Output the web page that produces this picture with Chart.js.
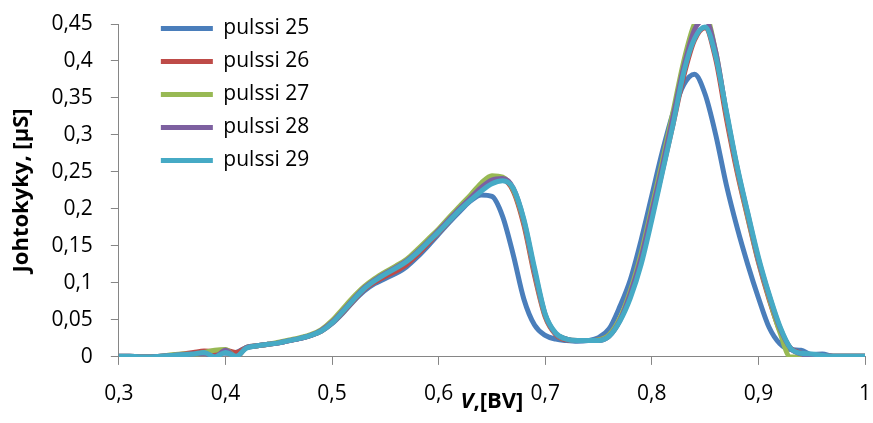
<!DOCTYPE html>
<html>
<head>
<meta charset="utf-8">
<script src="https://cdn.jsdelivr.net/npm/chart.js@4/dist/chart.umd.min.js"></script>
<style>
  html, body { margin: 0; padding: 0; background: #ffffff; }
  #kuva { position: relative; width: 873px; height: 423px; }
</style>
</head>
<body>
<div id="kuva"><canvas id="johtokyky"></canvas></div>
<script>
// Datos
const jannite = [0.30,0.31,0.32,0.33,0.34,0.35,0.36,0.37,0.38,0.39,
  0.40,0.41,0.42,0.43,0.44,0.45,0.46,0.47,0.48,0.49,
  0.50,0.51,0.52,0.53,0.54,0.55,0.56,0.57,0.58,0.59,
  0.60,0.61,0.62,0.63,0.64,0.65,0.66,0.67,0.68,0.69,
  0.70,0.71,0.72,0.73,0.74,0.75,0.76,0.77,0.78,0.79,
  0.80,0.81,0.82,0.83,0.84,0.85,0.86,0.87,0.88,0.89,
  0.90,0.91,0.92,0.93,0.94,0.95,0.96,0.97,0.98,0.99,1.00];

const pulssi25 = [0.001,0.001,0.000,0.000,0.001,0.002,0.003,0.004,0.005,0.006,
  0.005,0.006,0.013,0.015,0.017,0.019,0.022,0.025,0.029,0.035,
  0.045,0.059,0.075,0.089,0.099,0.106,0.113,0.122,0.135,0.150,
  0.166,0.182,0.197,0.211,0.219,0.217,0.190,0.138,0.078,0.043,
  0.029,0.024,0.022,0.021,0.022,0.026,0.038,0.068,0.105,0.158,
  0.218,0.278,0.330,0.368,0.382,0.355,0.300,0.232,0.175,0.125,
  0.080,0.040,0.018,0.010,0.009,0.003,0.004,0.001,0.001,0.001,0.001];

const pulssi26 = [0.001,0.001,0.000,0.000,0.001,0.002,0.004,0.006,0.008,0.007,
  0.009,0.006,0.013,0.015,0.017,0.019,0.022,0.025,0.029,0.035,
  0.046,0.060,0.076,0.091,0.101,0.109,0.116,0.125,0.138,0.153,
  0.168,0.184,0.200,0.214,0.227,0.237,0.239,0.224,0.178,0.110,
  0.054,0.030,0.023,0.022,0.022,0.023,0.029,0.050,0.084,0.130,
  0.190,0.252,0.315,0.380,0.428,0.445,0.402,0.322,0.250,0.188,
  0.128,0.078,0.036,0.012,0.005,0.003,0.002,0.001,0.001,0.001,0.001];

const pulssi27 = [0.000,0.000,0.000,0.000,0.001,0.003,0.004,0.003,0.006,0.009,
  0.010,0.000,0.013,0.015,0.017,0.020,0.023,0.026,0.030,0.037,
  0.049,0.065,0.081,0.095,0.106,0.115,0.123,0.132,0.145,0.159,
  0.173,0.189,0.204,0.219,0.235,0.245,0.243,0.226,0.182,0.114,
  0.056,0.031,0.024,0.022,0.022,0.023,0.030,0.052,0.090,0.140,
  0.202,0.265,0.332,0.400,0.450,0.462,0.412,0.328,0.254,0.190,
  0.130,0.080,0.034,0.000,0.000,0.002,0.001,0.001,0.001,0.001,0.001];

const pulssi28 = [0.000,0.000,0.000,0.000,0.001,0.002,0.003,0.004,0.005,0.000,
  0.009,0.000,0.013,0.015,0.017,0.019,0.022,0.025,0.029,0.036,
  0.047,0.062,0.078,0.093,0.104,0.113,0.121,0.130,0.142,0.156,
  0.171,0.186,0.201,0.215,0.229,0.239,0.241,0.228,0.184,0.116,
  0.057,0.031,0.024,0.022,0.022,0.022,0.028,0.049,0.086,0.134,
  0.196,0.258,0.325,0.392,0.442,0.456,0.412,0.330,0.256,0.193,
  0.132,0.083,0.040,0.012,0.004,0.002,0.002,0.001,0.001,0.001,0.001];

const pulssi29 = [0.001,0.001,0.000,0.000,0.001,0.002,0.003,0.004,0.006,0.000,
  0.006,0.001,0.012,0.015,0.017,0.019,0.022,0.025,0.029,0.035,
  0.046,0.061,0.077,0.092,0.103,0.112,0.120,0.129,0.141,0.155,
  0.169,0.184,0.199,0.212,0.224,0.234,0.238,0.228,0.186,0.120,
  0.058,0.032,0.024,0.022,0.022,0.022,0.028,0.048,0.080,0.125,
  0.185,0.250,0.315,0.385,0.430,0.446,0.406,0.332,0.258,0.195,
  0.135,0.085,0.042,0.012,0.005,0.004,0.002,0.001,0.001,0.001,0.001];

const sarjat = ['pulssi 25','pulssi 26','pulssi 27','pulssi 28','pulssi 29'];
const arvot = [pulssi25, pulssi26, pulssi27, pulssi28, pulssi29];
const varit = ['#4A7EBB','#BE4B48','#98B954','#7D60A0','#46AAC5'];

const xTicks = [0.3,0.4,0.5,0.6,0.7,0.8,0.9,1];
const yTicks = [0,0.05,0.1,0.15,0.2,0.25,0.3,0.35,0.4,0.45];

// coma decimal como en el original
function pilkku(v) {
  return String(Number(v.toFixed(2))).replace('.', ',');
}

const gris = '#868686';
const fuente = "'Open Sans', 'Noto Sans', sans-serif";

// la leyenda va dentro del área, arriba a la izquierda
const moverLeyenda = {
  id: 'moverLeyenda',
  afterLayout(chart) {
    const l = chart.legend;
    l.left = chart.chartArea.left + 30;
    l.top = 6;
    l.bottom = chart.height;
  }
};

// título del eje x con la V en cursiva (el título de Chart.js solo reserva el sitio)
const tituloX = {
  id: 'tituloX',
  afterDraw(chart) {
    const s = chart.scales.x;
    const ctx = chart.ctx;
    const koko = 22;
    ctx.save();
    ctx.fillStyle = '#000';
    ctx.textBaseline = 'middle';
    ctx.textAlign = 'left';
    ctx.font = 'italic bold ' + koko + 'px ' + fuente;
    const a = ctx.measureText('V').width;
    ctx.font = 'bold ' + koko + 'px ' + fuente;
    const b = ctx.measureText(',[BV]').width;
    const x0 = (s.left + s.right) / 2 - (a + b) / 2;
    const y = s.bottom - 8 - koko * 1.2 / 2;
    ctx.font = 'italic bold ' + koko + 'px ' + fuente;
    ctx.fillText('V', x0, y);
    ctx.font = 'bold ' + koko + 'px ' + fuente;
    ctx.fillText(',[BV]', x0 + a, y);
    ctx.restore();
  }
};

new Chart(document.getElementById('johtokyky'), {
  type: 'line',
  data: {
    datasets: sarjat.map((nimi, i) => ({
      label: nimi,
      data: jannite.map((x, j) => ({ x: x, y: arvot[i][j] })),
      borderColor: varit[i],
      backgroundColor: varit[i],
      borderWidth: 5,
      borderCapStyle: 'round',
      borderJoinStyle: 'round',
      pointRadius: 0,
      cubicInterpolationMode: 'monotone',
      fill: false,
      order: sarjat.length - i
    }))
  },
  options: {
    responsive: true,
    maintainAspectRatio: false,
    animation: false,
    layout: { padding: { top: 24, right: 8, left: 0, bottom: 0 } },
    plugins: {
      tooltip: { enabled: false },
      legend: {
        position: 'chartArea',
        align: 'start',
        labels: {
          usePointStyle: true,
          pointStyle: 'line',
          pointStyleWidth: 52,
          padding: 12,
          color: '#000',
          font: { family: fuente, size: 21 },
          sort: (a, b) => a.datasetIndex - b.datasetIndex
        }
      }
    },
    scales: {
      x: {
        type: 'linear',
        min: 0.3,
        max: 1,
        afterBuildTicks: (s) => { s.ticks = xTicks.map(v => ({ value: v })); },
        // el relleno de las etiquetas no debe encoger el área
        afterFit: (s) => { s.paddingRight = 0; s.paddingLeft = 0; },
        ticks: {
          callback: (v) => pilkku(v),
          color: '#000',
          padding: 17,
          maxRotation: 0,
          autoSkip: false,
          font: { family: fuente, size: 21 }
        },
        grid: { drawOnChartArea: false, tickLength: 8, color: gris },
        border: { color: gris, width: 1 },
        title: {
          display: true,
          text: 'V,[BV]',
          color: 'rgba(0,0,0,0)',
          padding: { top: -35.5, bottom: 8 },
          font: { family: fuente, size: 22, weight: 'bold' }
        }
      },
      y: {
        min: 0,
        max: 0.45,
        afterBuildTicks: (s) => { s.ticks = yTicks.map(v => ({ value: v })); },
        afterFit: (s) => { s.paddingTop = 0; s.paddingBottom = 0; },
        ticks: {
          callback: (v) => pilkku(v),
          color: '#000',
          padding: 18,
          font: { family: fuente, size: 21 }
        },
        grid: { drawOnChartArea: false, tickLength: 8, color: gris },
        border: { color: gris, width: 1 },
        title: {
          display: true,
          text: 'Johtokyky, [µS]',
          color: '#000',
          padding: { top: 9, bottom: -2 },
          font: { family: fuente, size: 22, weight: 'bold' }
        }
      }
    }
  },
  plugins: [moverLeyenda, tituloX]
});
</script>
</body>
</html>
